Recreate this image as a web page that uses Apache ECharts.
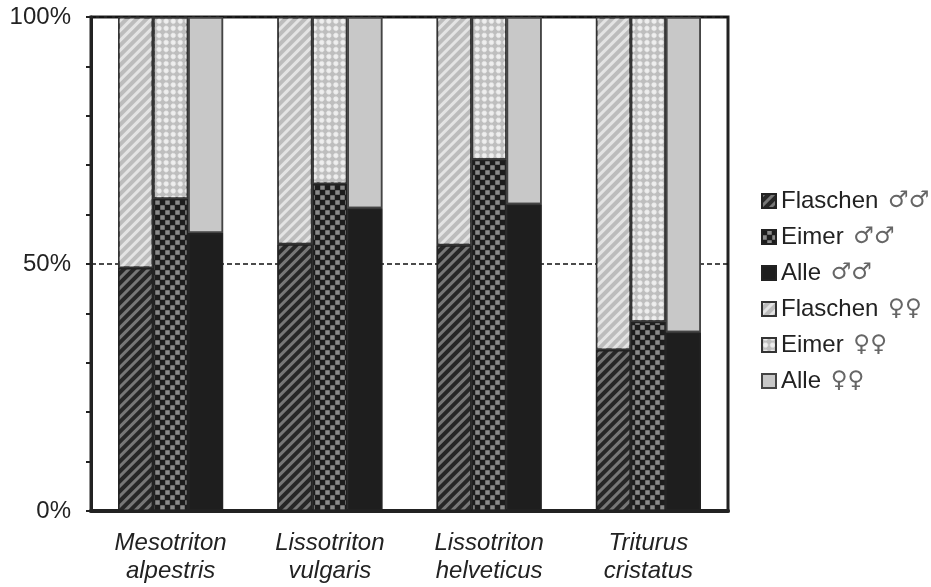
<!DOCTYPE html>
<html>
<head>
<meta charset="utf-8">
<script src="https://cdn.jsdelivr.net/npm/echarts@6/dist/echarts.min.js"></script>
<style>html,body{margin:0;padding:0;background:#fff}#c{width:931px;height:587px}</style>
</head>
<body>
<div id="c"></div>
<script>
const categories = ['Mesotriton\nalpestris', 'Lissotriton\nvulgaris', 'Lissotriton\nhelveticus', 'Triturus\ncristatus'];
const seriesNames = ['Flaschen ♂♂', 'Eimer ♂♂', 'Alle ♂♂', 'Flaschen ♀♀', 'Eimer ♀♀', 'Alle ♀♀'];
const flaschenMales = [49.2, 54.0, 53.8, 32.6];
const eimerMales = [63.2, 66.2, 71.1, 38.3];
const alleMales = [56.3, 61.3, 62.1, 36.2];
const flaschenFemales = flaschenMales.map(v => +(100 - v).toFixed(1));
const eimerFemales = eimerMales.map(v => +(100 - v).toFixed(1));
const alleFemales = alleMales.map(v => +(100 - v).toFixed(1));
const yTickLabels = {0: '0%', 50: '50%', 100: '100%'};

const stripe = (c) => ({symbol: 'rect', color: c, dashArrayX: [1, 0], dashArrayY: [3, 4], rotation: -Math.PI / 4, symbolSize: 1});
const checker = (c, sym, s) => ({symbol: sym, color: c, dashArrayX: [[5, 5], [0, 5, 5, 0]], dashArrayY: [5, 0], symbolSize: s});
const noDecal = {symbol: 'none'};

const styles = [
  {color: '#262626', borderColor: '#222', decal: stripe('#777777')},
  {color: '#1c1c1c', borderColor: '#222', decal: checker('#8a8a8a', 'rect', 0.9)},
  {color: '#1e1e1e', borderColor: '#222', decal: noDecal},
  {color: '#bcbcbc', borderColor: '#333', decal: stripe('#e4e4e4')},
  {color: '#bebebe', borderColor: '#333', decal: checker('#efefef', 'circle', 1)},
  {color: '#c8c8c8', borderColor: '#444', decal: noDecal}
];
const dataArr = [flaschenMales, eimerMales, alleMales, flaschenFemales, eimerFemales, alleFemales];
const stacks = ['f', 'e', 'a', 'f', 'e', 'a'];

const series = seriesNames.map((n, i) => ({
  name: n, type: 'bar', stack: stacks[i], barWidth: 35, barGap: '0%',
  data: dataArr[i],
  itemStyle: Object.assign({borderWidth: 1.5}, styles[i]),
  emphasis: {disabled: true}
}));

const FONT = 'Liberation Sans, Arial, sans-serif';
const chart = echarts.init(document.getElementById('c'), null, {renderer: 'canvas'});
chart.setOption({
  animation: false,
  aria: {enabled: true, decal: {show: true}},
  grid: {left: 91, right: 203, top: 17, bottom: 76, show: true, borderColor: '#222', borderWidth: 3, backgroundColor: 'transparent'},
  legend: {
    orient: 'vertical', left: 756, top: 183, itemWidth: 14, itemHeight: 14, itemGap: 10,
    icon: 'rect',
    formatter: n => n.replace(/([♂♀]+)/, '{g|$1}'),
    textStyle: {fontFamily: FONT, fontSize: 24, color: '#222', lineHeight: 26,
      rich: {g: {fontFamily: 'DejaVu Sans', fontSize: 23, color: '#666', lineHeight: 26, padding: [0, 0, 0, 3]}}},
    data: seriesNames
  },
  xAxis: {
    type: 'category', data: categories,
    axisLine: {lineStyle: {color: '#222', width: 4}},
    axisTick: {show: false},
    axisLabel: {fontFamily: FONT, fontStyle: 'italic', fontSize: 24, color: '#222', lineHeight: 28, margin: 18}
  },
  yAxis: [{
    type: 'value', min: 0, max: 100, interval: 10,
    axisLine: {show: true, lineStyle: {color: '#222', width: 3}},
    axisTick: {show: true, length: 5, inside: false, lineStyle: {color: '#222', width: 2}},
    splitLine: {show: false},
    axisLabel: {fontFamily: FONT, fontSize: 24, color: '#222', margin: 20,
      formatter: v => (yTickLabels[v] !== undefined ? yTickLabels[v] : '')}
  }, {
    type: 'value', min: 0, max: 100, interval: 50, position: 'right',
    axisLine: {show: false}, axisTick: {show: false}, axisLabel: {show: false},
    splitLine: {show: true, lineStyle: {color: '#111', width: 1.5, type: [5, 3]}}
  }],
  series: series
});
</script>
</body>
</html>
